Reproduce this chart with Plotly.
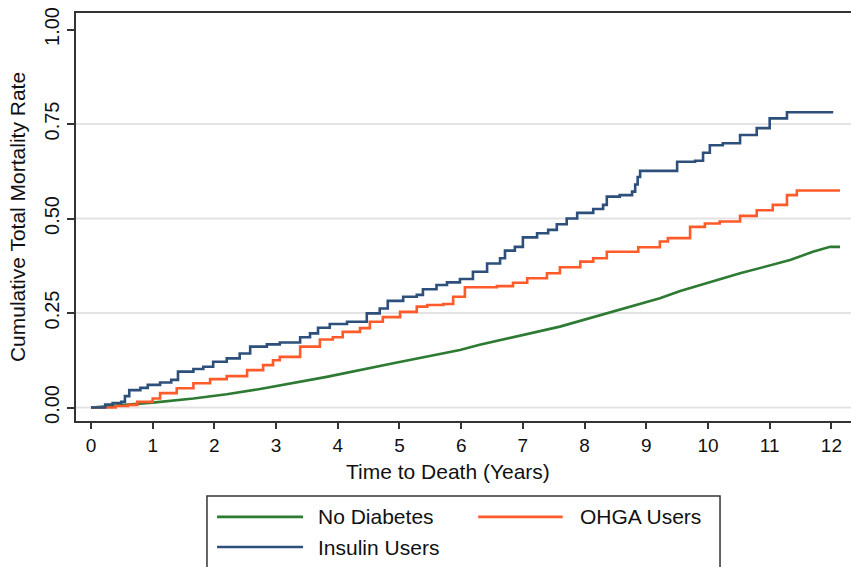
import plotly.graph_objects as go

# Cumulative total mortality by diabetes treatment group (step estimates)
insulin_t = [0.0, 0.23, 0.35, 0.49, 0.55, 0.62, 0.80, 0.92, 1.12, 1.30, 1.41, 1.66, 1.82, 1.98,
             2.20, 2.41, 2.58, 2.85, 3.06, 3.39, 3.55, 3.68, 3.87, 4.15, 4.47, 4.68, 4.81, 5.06,
             5.28, 5.38, 5.60, 5.77, 5.98, 6.19, 6.42, 6.63, 6.71, 6.87, 7.00, 7.23, 7.41, 7.55,
             7.71, 7.88, 8.14, 8.30, 8.36, 8.57, 8.77, 8.82, 8.86, 8.90, 9.50, 9.79, 9.92, 10.03,
             10.24, 10.52, 10.79, 11.00, 11.28, 12.03]
insulin_v = [0.0, 0.008, 0.012, 0.015, 0.030, 0.046, 0.052, 0.060, 0.066, 0.073, 0.095, 0.102,
             0.108, 0.121, 0.130, 0.143, 0.161, 0.167, 0.172, 0.186, 0.196, 0.211, 0.221, 0.227,
             0.249, 0.262, 0.282, 0.293, 0.298, 0.313, 0.324, 0.331, 0.340, 0.359, 0.381, 0.395,
             0.415, 0.425, 0.450, 0.461, 0.470, 0.485, 0.500, 0.515, 0.525, 0.536, 0.558, 0.562,
             0.571, 0.590, 0.610, 0.626, 0.650, 0.653, 0.674, 0.694, 0.699, 0.721, 0.739, 0.765,
             0.781, 0.781]

ohga_t = [0.0, 0.40, 0.60, 0.75, 1.00, 1.12, 1.39, 1.66, 1.93, 2.20, 2.53, 2.79, 2.95, 3.06,
          3.39, 3.71, 3.92, 4.08, 4.36, 4.52, 4.73, 5.01, 5.28, 5.45, 5.71, 5.87, 6.06, 6.58,
          6.84, 7.07, 7.39, 7.60, 7.93, 8.14, 8.36, 8.87, 9.22, 9.35, 9.71, 9.95, 10.19, 10.52,
          10.79, 11.05, 11.28, 11.44, 12.14]
ohga_v = [0.0, 0.004, 0.007, 0.015, 0.024, 0.038, 0.051, 0.064, 0.075, 0.083, 0.099, 0.112,
          0.125, 0.134, 0.161, 0.180, 0.186, 0.200, 0.210, 0.227, 0.239, 0.253, 0.267, 0.271,
          0.274, 0.293, 0.318, 0.321, 0.330, 0.342, 0.355, 0.371, 0.386, 0.395, 0.412, 0.424,
          0.439, 0.448, 0.478, 0.487, 0.492, 0.507, 0.522, 0.536, 0.562, 0.574, 0.574]

nodiab_t = [0.0, 0.58, 1.00, 1.66, 2.20, 2.74, 3.06, 3.82, 4.90, 5.98, 6.30, 7.60, 9.22, 9.55,
            10.52, 11.33, 11.70, 11.98, 12.14]
nodiab_v = [0.0, 0.007, 0.013, 0.024, 0.035, 0.049, 0.058, 0.081, 0.117, 0.152, 0.166, 0.214,
            0.289, 0.308, 0.355, 0.390, 0.412, 0.425, 0.425]

series_names = ["No Diabetes", "OHGA Users", "Insulin Users"]
series_colors = ["#2d7a33", "#ff5a2a", "#2c4f7c"]

y_ticks = [0, 0.25, 0.5, 0.75, 1.0]
y_tick_text = ["0.00", "0.25", "0.50", "0.75", "1.00"]
x_ticks = list(range(0, 13))
grid_levels = [0, 0.25, 0.5, 0.75]

FONT = "Liberation Sans, Arial, Helvetica, sans-serif"

fig = go.Figure()

series = [(nodiab_t, nodiab_v, "linear"), (ohga_t, ohga_v, "hv"), (insulin_t, insulin_v, "hv")]
for (t, v, shape), name, color in zip(series, series_names, series_colors):
    fig.add_trace(go.Scatter(x=t, y=v, mode="lines", name=name,
                             line=dict(color=color, width=2.6, shape=shape),
                             showlegend=False))

# light horizontal grid
for g in grid_levels:
    fig.add_shape(type="line", xref="paper", x0=0, x1=1, yref="y", y0=g, y1=g,
                  line=dict(color="#e3e3e3", width=2), layer="below")

# boxed legend below the plot
fig.add_shape(type="rect", xref="paper", yref="paper", x0=0.169, x1=0.831, y0=-0.40, y1=-0.184,
              line=dict(color="#333333", width=1.5), fillcolor="white")
legend_slots = [(0.182, 0.293, 0.310, -0.235), (0.519, 0.628, 0.648, -0.235),
                (0.182, 0.293, 0.310, -0.309)]
for (lx0, lx1, tx, ly), name, color in zip(legend_slots, series_names, series_colors):
    fig.add_shape(type="line", xref="paper", yref="paper", x0=lx0, x1=lx1, y0=ly, y1=ly,
                  line=dict(color=color, width=2.6))
    fig.add_annotation(xref="paper", yref="paper", x=tx, y=ly, text=name, showarrow=False,
                       xanchor="left", yanchor="middle",
                       font=dict(family=FONT, size=21, color="#111111"))

fig.add_annotation(xref="paper", yref="paper", x=0.48, y=-0.124, text="Time to Death (Years)",
                   showarrow=False, xanchor="center", yanchor="middle",
                   font=dict(family=FONT, size=21, color="#111111"))

fig.update_layout(
    width=851, height=567,
    margin=dict(l=76, r=0, t=13, b=146),
    paper_bgcolor="white", plot_bgcolor="white",
    font=dict(family=FONT, color="#111111"),
    xaxis=dict(range=[-0.243, 12.318], tickvals=x_ticks, ticks="outside", ticklen=6,
               tickwidth=1.5, tickcolor="#333333", showgrid=False, zeroline=False,
               showline=True, linecolor="#333333", linewidth=2, mirror=True,
               tickfont=dict(size=19, family=FONT, color="#111111")),
    yaxis=dict(range=[-0.0357, 1.0437], tickvals=y_ticks, ticktext=y_tick_text,
               tickangle=-90, ticks="outside", ticklen=7, tickwidth=1.5, tickcolor="#333333",
               showgrid=False, zeroline=False, showline=True, linecolor="#333333", linewidth=2,
               tickfont=dict(size=20, family=FONT, color="#111111"),
               title=dict(text="Cumulative Total Mortality Rate", standoff=10,
                          font=dict(size=21, family=FONT, color="#111111"))),
)

fig.write_html("out.html")
